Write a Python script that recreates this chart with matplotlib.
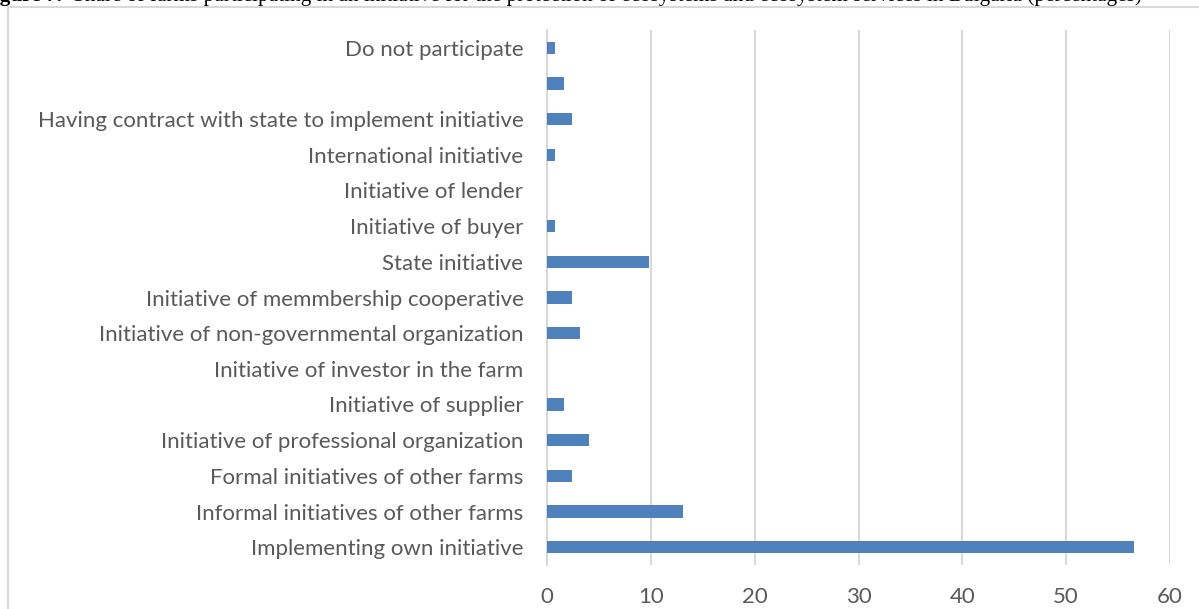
import matplotlib
matplotlib.use('Agg')
import matplotlib.pyplot as plt
from matplotlib.patches import Rectangle

# data, bottom to top as drawn
categories = [
    "Implementing own initiative",
    "Informal initiatives of other farms",
    "Formal initiatives of other farms",
    "Initiative of professional organization",
    "Initiative of supplier",
    "Initiative of investor in the farm",
    "Initiative of non-governmental organization",
    "Initiative of memmbership cooperative",
    "State initiative",
    "Initiative of buyer",
    "Initiative of lender",
    "International initiative",
    "Having contract with state to implement initiative",
    "",
    "Do not participate",
]
values = [56.5, 13.1, 2.4, 4.0, 1.6, 0.0, 3.2, 2.4, 9.8, 0.8, 0.0, 0.8, 2.4, 1.6, 0.8]
xticks = [0, 10, 20, 30, 40, 50, 60]

W, H = 1199, 609
fig = plt.figure(figsize=(W / 100, H / 100), dpi=100)
ax = fig.add_axes([547 / W, 1 - 565 / H, (1170 - 547) / W, (565 - 30) / H])

ypos = list(range(len(categories)))
ax.barh(ypos, values, height=0.34, color='#4F81BD', linewidth=0, zorder=3)

ax.set_xlim(0, 60)
ax.set_ylim(-0.5, len(categories) - 0.5)
ax.set_xticks(xticks)
ax.set_yticks(ypos)
ax.set_yticklabels(categories)
ax.grid(axis='x', color='#D9D9D9', linewidth=1.5, zorder=0)
for s in ['top', 'right', 'bottom']:
    ax.spines[s].set_visible(False)
ax.spines['left'].set_color('#D9D9D9')
ax.spines['left'].set_linewidth(1.5)
ax.tick_params(axis='both', length=0, labelsize=16, labelcolor='#595959')
ax.tick_params(axis='y', pad=17)
ax.tick_params(axis='x', pad=16)
for lbl in ax.get_xticklabels() + ax.get_yticklabels():
    lbl.set_fontfamily('Lato')

# chart area border (cut by the image edge)
fig.patches.append(Rectangle((8 / W, -0.1), 1.2, 1 - 7 / H + 0.1, transform=fig.transFigure,
                             fill=False, edgecolor='#D9D9D9', linewidth=1.5))

# caption, mostly cropped at the top
fig.text(-19 / W, 1 - 1 / H, "Figure 7.", fontfamily='Liberation Serif', fontsize=15.3,
         fontweight='bold', va='baseline', ha='left')
fig.text(73 / W, 1 - 1 / H,
         "Share of farms participating in an initiative for the protection of ecosystems "
         "and ecosystem services in Bulgaria (percentages)",
         fontfamily='Liberation Serif', fontsize=15.3, va='baseline', ha='left')

fig.savefig('out.png', dpi=100)
